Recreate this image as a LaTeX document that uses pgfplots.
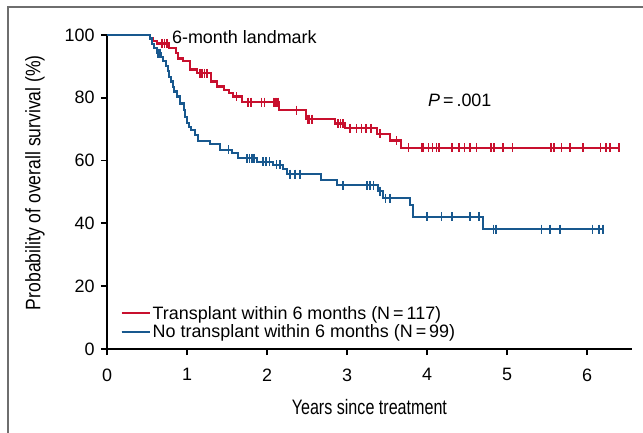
\documentclass[border=0pt]{standalone}
\usepackage{fontspec}
\setmainfont{Liberation Sans}
\usepackage{pgfplots}
\pgfplotsset{compat=1.18}
\definecolor{tred}{RGB}{200,16,46}
\definecolor{nblue}{RGB}{24,88,142}
\definecolor{framegray}{RGB}{110,110,110}
\begin{document}
\begin{tikzpicture}
\useasboundingbox (-107bp,-84bp) rectangle (536bp,349bp);
\draw[framegray, line width=1.3bp] (-99bp,-84bp) -- (-99bp,342bp) -- (536bp,342bp);
\begin{axis}[
  anchor=origin, at={(0,0)},
  x=80bp, y=3.14bp,
  xmin=0, xmax=6.56, ymin=0, ymax=100,
  axis x line=bottom, axis y line=left,
  axis line style={-, line width=2.4bp, black},
  clip=false,
  xtick={0,1,2,3,4,5,6},
  ytick={0,20,40,60,80,100},
  tick align=outside,
  major tick length=6bp,
  every tick/.style={black, line width=1.8bp},
  /pgf/number format/assume math mode=true,
  tick label style={font=\fontsize{18}{21}\selectfont},
  xticklabel style={yshift=-10bp},
  yticklabel style={xshift=-3bp},
  xlabel={\scalebox{0.77}[1]{Years since treatment}},
  ylabel={\scalebox{0.84}[1]{Probability of overall survival (\%)}},
  label style={font=\fontsize{21}{24}\selectfont},
  xlabel style={at={(axis cs:3.28,-18.5)}, anchor=center},
  ylabel style={at={(axis cs:-0.9,53)}, anchor=center},
  legend style={draw=none, fill=none, at={(axis cs:0.13,15)}, anchor=north west,
    font=\fontsize{18}{21}\selectfont, row sep=0pt},
  legend cell align=left,
  legend image code/.code={\draw[#1, line width=1.5bp] (0bp,0bp) -- (23bp,0bp);\path (0bp,0bp) -- (28bp,0bp);},
]
% Transplant within 6 months
\addplot[tred, line width=2.1bp, const plot, no marks] coordinates {
(0,100) (0.54,98.9) (0.58,98.2) (0.62,97.3) (0.78,95.8) (0.86,94.2) (0.89,92.5)
(0.95,91.6) (1.04,89.0) (1.12,87.8) (1.30,85.2) (1.38,83.6) (1.46,82.5) (1.52,81.4)
(1.57,80.4) (1.69,78.6) (2.15,76.1) (2.49,73.2) (2.85,71.8) (2.97,70.3) (3.38,68.5)
(3.54,66.4) (3.68,64.1) (6.41,64.1)};
\addlegendentry{Transplant within 6 months (N\,=\,117)}
% No transplant within 6 months
\addplot[nblue, line width=2.1bp, const plot, no marks] coordinates {
(0,100) (0.54,98.9) (0.56,97.0) (0.59,95.9) (0.62,94.2) (0.68,93.0) (0.70,91.6)
(0.74,90.0) (0.76,88.5) (0.78,86.7) (0.80,85.2) (0.82,83.5) (0.84,82.0) (0.88,80.4)
(0.91,78.2) (0.96,76.1) (0.98,74.0) (1.00,72.0) (1.02,70.8) (1.05,69.7) (1.10,68.2)
(1.14,66.2) (1.29,65.3) (1.41,63.4) (1.56,62.3) (1.64,60.7) (1.87,59.6) (2.08,58.6)
(2.20,57.2) (2.25,55.7) (2.68,53.8) (2.87,52.1) (3.39,50.3) (3.45,48.0) (3.79,45.9)
(3.83,42.1) (4.70,38.2) (6.20,38.2)};
\addlegendentry{No transplant within 6 months (N\,=\,99)}
% censor marks
\addplot[tred, only marks, mark=|, mark size=4.5bp, mark options={line width=1.7bp}, forget plot] coordinates {
(0.69,97.3) (0.72,97.3) (0.75,97.3)
(1.16,87.8) (1.19,87.8) (1.22,87.8) (1.25,87.8)
(1.62,80.4)
(1.76,78.6) (1.80,78.6) (1.93,78.6) (1.97,78.6) (2.08,78.6) (2.10,78.6) (2.12,78.6) (2.14,78.6)
(2.37,76.1)
(2.51,73.2) (2.53,73.2) (2.56,73.2)
(2.89,71.8) (2.92,71.8) (2.95,71.8)
(3.04,70.3) (3.12,70.3) (3.18,70.3) (3.24,70.3) (3.30,70.3)
(3.41,68.5) (3.62,66.4)
(3.77,64.1) (3.93,64.1) (3.95,64.1) (4.02,64.1) (4.07,64.1) (4.12,64.1) (4.15,64.1)
(4.31,64.1) (4.40,64.1) (4.47,64.1) (4.54,64.1) (4.62,64.1) (4.80,64.1) (4.84,64.1)
(4.95,64.1) (5.07,64.1) (5.55,64.1) (5.59,64.1) (5.68,64.1) (5.79,64.1) (5.95,64.1)
(6.17,64.1) (6.24,64.1) (6.29,64.1) (6.40,64.1)};
\addplot[nblue, only marks, mark=|, mark size=4.5bp, mark options={line width=1.7bp}, forget plot] coordinates {
(0.64,94.2) (0.66,94.2)
(1.52,63.4)
(1.75,60.7) (1.78,60.7) (1.81,60.7) (1.84,60.7)
(1.95,59.6) (1.99,59.6) (2.03,59.6)
(2.12,58.6) (2.16,58.6)
(2.29,55.7) (2.35,55.7) (2.41,55.7)
(2.95,52.1) (3.25,52.1) (3.29,52.1) (3.33,52.1)
(3.41,50.3) (3.48,48.0) (3.54,48.0)
(4.00,42.1) (4.18,42.1) (4.31,42.1) (4.54,42.1) (4.65,42.1)
(4.83,38.2) (4.86,38.2) (5.43,38.2) (5.54,38.2) (5.66,38.2) (6.07,38.2) (6.15,38.2) (6.20,38.2)};
\node[anchor=west, font=\fontsize{18}{21}\selectfont] at (axis cs:0.77,99.4) {6-month landmark};
\node[anchor=west, font=\fontsize{18}{21}\selectfont] at (axis cs:3.97,79.3) {\textit{P}\,=\,.001};
\end{axis}
\end{tikzpicture}
\end{document}
